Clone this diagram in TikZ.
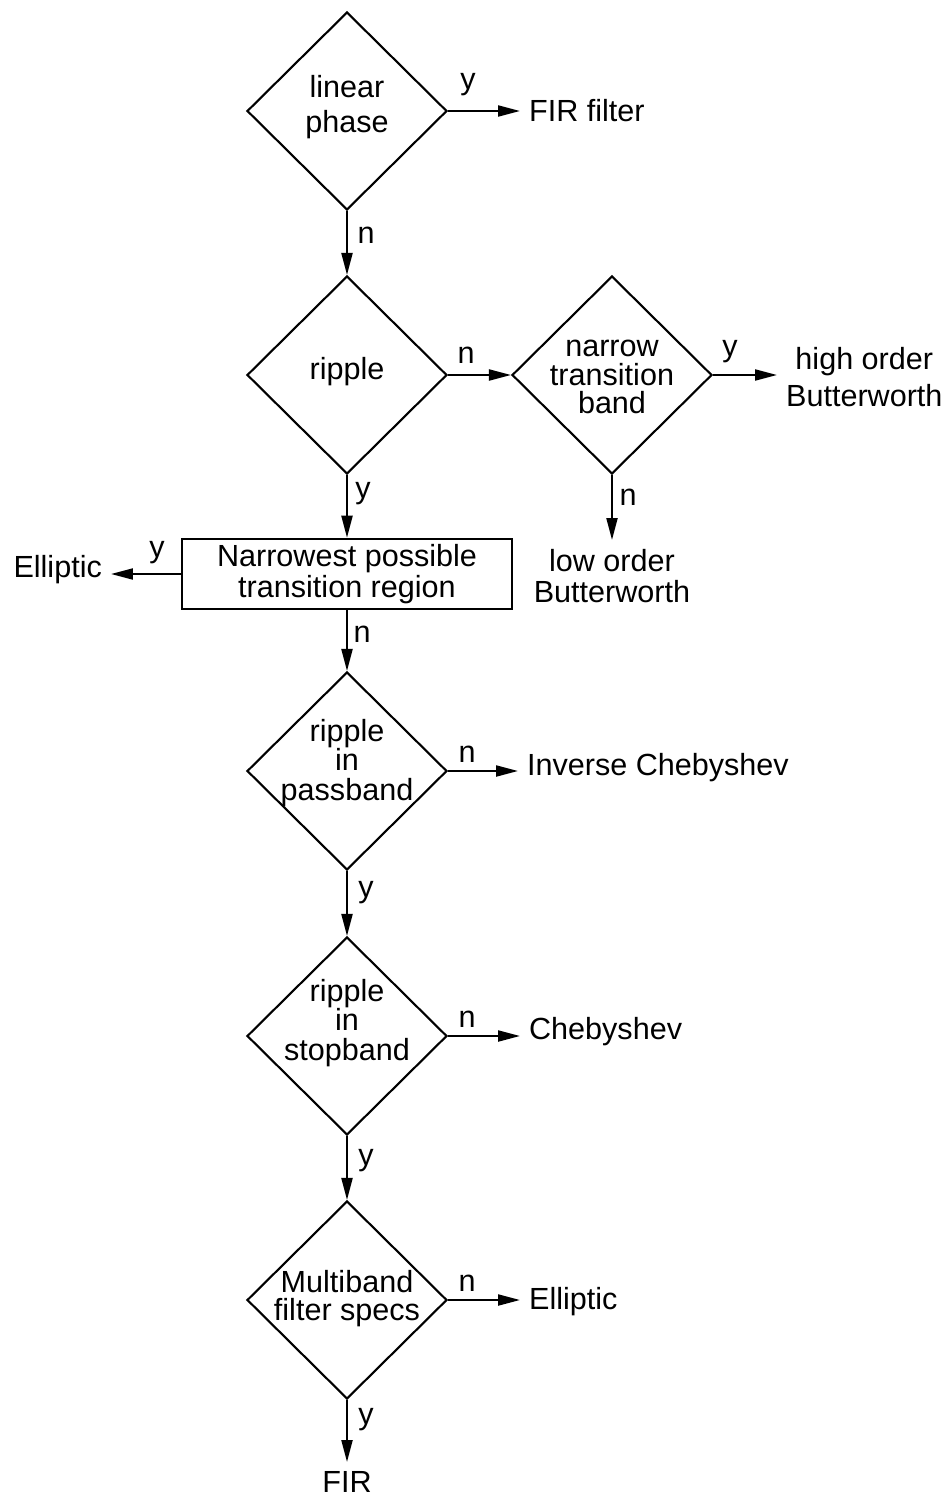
\documentclass[tikz,border=0pt]{standalone}
\usepackage{fontspec}
\setmainfont{Liberation Sans}
\usetikzlibrary{arrows.meta,shapes.geometric}
\newcommand{\fsz}[1]{\fontsize{17.4}{#1}\selectfont}

\begin{document}
\begin{tikzpicture}[x=0.02cm, y=-0.02cm,
  dia/.style={draw,diamond,minimum width=4cm,minimum height=3.96cm,inner sep=0pt,line width=1.2pt},
  box/.style={draw,minimum width=6.6cm,minimum height=1.32cm,line width=1.2pt,align=center,font=\fsz{16}},
  txt/.style={align=center,inner sep=0pt,font=\fsz{20}},
  res/.style={align=center,inner sep=5pt,font=\fsz{20}},
  yn/.style={inner sep=0pt,font=\fsz{20}},
  arr/.style={line width=1.2pt,-{Triangle[length=0.44cm,width=0.22cm]}},
]
  \useasboundingbox (0,0) rectangle (950,1501);

  % decisions
  \node[dia] (lin) at (347,111) {};
  \node[dia] (rip) at (347,375) {};
  \node[dia] (nar) at (612,375) {};
  \node[box] (trn) at (347,574) {Narrowest possible\\transition region};
  \node[dia] (pas) at (347,771) {};
  \node[dia] (stp) at (347,1036) {};
  \node[dia] (mul) at (347,1300) {};

  \node[txt] (lint) at (347,107) {linear\\phase};
  \node[txt] (ript) at (347,372) {ripple};
  \node[txt,font=\fsz{16}] (nart) at (612,377) {narrow\\transition\\band};
  \node[txt,font=\fsz{17}] (past) at (347,763) {ripple\\in\\passband};
  \node[txt,font=\fsz{17}] (stpt) at (347,1023) {ripple\\in\\stopband};
  \node[txt,font=\fsz{16}] (mult) at (347,1299) {Multiband\\filter specs};

  % outcomes
  \node[res,anchor=west] (fir1) at (520,111) {FIR filter};
  \node[res,anchor=west,font=\fsz{21}] (hbut) at (777,377) {high order\\Butterworth};
  \node[res,anchor=north,font=\fsz{18}] (lbut) at (612,540) {low order\\Butterworth};
  \node[res,anchor=east] (ell1) at (111,570) {Elliptic};
  \node[res,anchor=west] (ich) at (518,768) {Inverse Chebyshev};
  \node[res,anchor=west] (che) at (520,1032) {Chebyshev};
  \node[res,anchor=west] (ell2) at (520,1302) {Elliptic};
  \node[res,anchor=north] (fir2) at (347,1462) {FIR};

  % connectors
  \draw[arr] (lin.east) -- (fir1.west);
  \draw[arr] (lin.south) -- (rip.north);
  \draw[arr] (rip.east) -- (nar.west);
  \draw[arr] (nar.east) -- (hbut.west |- nar.east);
  \draw[arr] (nar.south) -- (lbut.north);
  \draw[arr] (rip.south) -- (trn.north);
  \draw[arr] (trn.west) -- (ell1.east |- trn.west);
  \draw[arr] (trn.south) -- (pas.north);
  \draw[arr] (pas.east) -- (ich.west |- pas.east);
  \draw[arr] (pas.south) -- (stp.north);
  \draw[arr] (stp.east) -- (che.west |- stp.east);
  \draw[arr] (stp.south) -- (mul.north);
  \draw[arr] (mul.east) -- (ell2.west |- mul.east);
  \draw[arr] (mul.south) -- (fir2.north);

  % y/n labels
  \node[yn] (l1) at (468,85) {y};
  \node[yn] (l2) at (366,235) {n};
  \node[yn] (l3) at (466,355) {n};
  \node[yn] (l4) at (730,352) {y};
  \node[yn] (l5) at (628,497) {n};
  \node[yn] (l6) at (363,494) {y};
  \node[yn] (l7) at (157,553) {y};
  \node[yn] (l8) at (362,634) {n};
  \node[yn] (l9) at (467,754) {n};
  \node[yn] (l10) at (366,893) {y};
  \node[yn] (l11) at (467,1019) {n};
  \node[yn] (l12) at (366,1161) {y};
  \node[yn] (l13) at (467,1283) {n};
  \node[yn] (l14) at (366,1420) {y};
\end{tikzpicture}
\end{document}
